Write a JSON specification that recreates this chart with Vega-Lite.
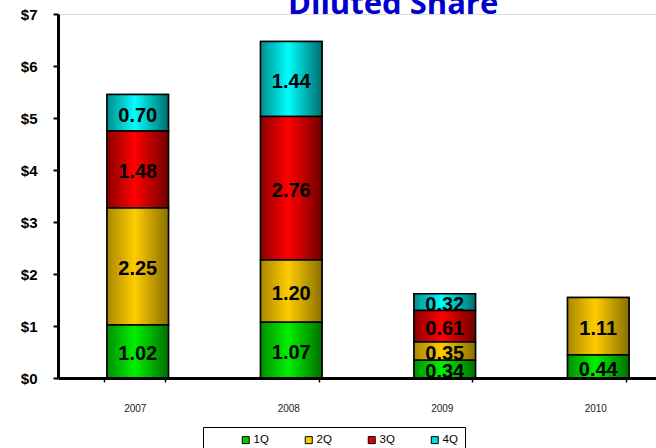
{
  "$schema": "https://vega.github.io/schema/vega-lite/v6.json",
  "autosize": "none",
  "width": 598,
  "height": 364,
  "padding": {"left": 58, "top": 14, "right": 0, "bottom": 70},
  "background": "white",
  "title": {
    "text": "Diluted Share",
    "anchor": "start",
    "frame": "group",
    "dx": 230,
    "offset": 0,
    "dy": 14,
    "font": "Open Sans",
    "fontSize": 31,
    "fontWeight": "bold",
    "color": "#0000CC"
  },
  "data": {
    "values": [
      {"year": "2007", "quarter": "1Q", "value": 1.02, "label": "1.02"},
      {"year": "2007", "quarter": "2Q", "value": 2.25, "label": "2.25"},
      {"year": "2007", "quarter": "3Q", "value": 1.48, "label": "1.48"},
      {"year": "2007", "quarter": "4Q", "value": 0.70, "label": "0.70"},
      {"year": "2008", "quarter": "1Q", "value": 1.07, "label": "1.07"},
      {"year": "2008", "quarter": "2Q", "value": 1.20, "label": "1.20"},
      {"year": "2008", "quarter": "3Q", "value": 2.76, "label": "2.76"},
      {"year": "2008", "quarter": "4Q", "value": 1.44, "label": "1.44"},
      {"year": "2009", "quarter": "1Q", "value": 0.34, "label": "0.34"},
      {"year": "2009", "quarter": "2Q", "value": 0.35, "label": "0.35"},
      {"year": "2009", "quarter": "3Q", "value": 0.61, "label": "0.61"},
      {"year": "2009", "quarter": "4Q", "value": 0.32, "label": "0.32"},
      {"year": "2010", "quarter": "1Q", "value": 0.44, "label": "0.44"},
      {"year": "2010", "quarter": "2Q", "value": 1.11, "label": "1.11"}
    ]
  },
  "transform": [
    {"stack": "value", "groupby": ["year"], "sort": [{"field": "quarter", "order": "ascending"}], "as": ["y0", "y1"]},
    {"calculate": "(datum.y0 + datum.y1) / 2", "as": "ymid"}
  ],
  "encoding": {
    "x": {
      "field": "year",
      "type": "nominal",
      "scale": {"range": [0, 614], "paddingInner": 0.6, "paddingOuter": 0.3},
      "axis": {
        "title": null,
        "labelAngle": 0,
        "labelFont": "Liberation Sans",
        "labelFontSize": 10,
        "labelColor": "#222222",
        "labelPadding": 21,
        "domainColor": "black",
        "domainWidth": 3,
        "tickColor": "black",
        "tickWidth": 1.5,
        "tickSize": 4,
        "tickBand": "extent",
        "zindex": 1
      }
    }
  },
  "layer": [
    {
      "mark": {"type": "bar", "stroke": "black", "strokeWidth": 1.5, "xOffset": 3},
      "encoding": {
        "y": {
          "field": "y0",
          "type": "quantitative",
          "scale": {"domain": [0, 7], "nice": false},
          "axis": {
            "title": null,
            "values": [0, 1, 2, 3, 4, 5, 6, 7],
            "labelExpr": "'$' + datum.value",
            "labelFont": "Liberation Sans",
            "labelFontSize": 15,
            "labelFontWeight": "bold",
            "labelColor": "black",
            "labelPadding": 16,
            "grid": false,
            "domainColor": "black",
            "domainWidth": 3,
            "tickColor": "black",
            "tickWidth": 2,
            "tickSize": 5,
            "zindex": 1
          }
        },
        "y2": {"field": "y1"},
        "color": {
          "field": "quarter",
          "type": "nominal",
          "scale": {"domain": ["1Q", "2Q", "3Q", "4Q"], "range": ["#00CC00", "#FFCC00", "#DD0000", "#00DDDD"]},
          "legend": {
            "title": null,
            "orient": "none",
            "legendX": 145,
            "legendY": 413,
            "direction": "horizontal",
            "columns": 4,
            "columnPadding": 4,
            "padding": 7,
            "symbolOffset": 30,
            "strokeColor": "black",
            "fillColor": "white",
            "symbolType": "square",
            "symbolSize": 49,
            "symbolStrokeColor": "black",
            "symbolStrokeWidth": 1,
            "labelFont": "Liberation Sans",
            "labelFontSize": 11.5,
            "labelColor": "black",
            "labelOffset": 2
          }
        }
      }
    },
    {
      "transform": [{"filter": "datum.quarter == '4Q'"}],
      "mark": {"type": "bar", "stroke": "black", "strokeWidth": 1.5, "xOffset": 3,
        "fill": {"gradient": "linear", "x1": 0, "x2": 1, "y1": 0, "y2": 0, "stops": [{"offset": 0, "color": "#008C8C"}, {"offset": 0.45, "color": "#00FFFF"}, {"offset": 1, "color": "#006C6C"}]}},
      "encoding": {"y": {"field": "y0", "type": "quantitative"}, "y2": {"field": "y1"}}
    },
    {
      "transform": [{"filter": "datum.quarter == '4Q'"}],
      "mark": {"type": "text", "font": "Liberation Sans", "fontSize": 20, "fontWeight": "bold", "color": "black", "dy": 3, "xOffset": 3},
      "encoding": {"y": {"field": "ymid", "type": "quantitative"}, "text": {"field": "label"}}
    },
    {
      "transform": [{"filter": "datum.quarter == '3Q'"}],
      "mark": {"type": "bar", "stroke": "black", "strokeWidth": 1.5, "xOffset": 3,
        "fill": {"gradient": "linear", "x1": 0, "x2": 1, "y1": 0, "y2": 0, "stops": [{"offset": 0, "color": "#8C0000"}, {"offset": 0.45, "color": "#FF0000"}, {"offset": 1, "color": "#700000"}]}},
      "encoding": {"y": {"field": "y0", "type": "quantitative"}, "y2": {"field": "y1"}}
    },
    {
      "transform": [{"filter": "datum.quarter == '3Q'"}],
      "mark": {"type": "text", "font": "Liberation Sans", "fontSize": 20, "fontWeight": "bold", "color": "black", "dy": 3, "xOffset": 3},
      "encoding": {"y": {"field": "ymid", "type": "quantitative"}, "text": {"field": "label"}}
    },
    {
      "transform": [{"filter": "datum.quarter == '2Q'"}],
      "mark": {"type": "bar", "stroke": "black", "strokeWidth": 1.5, "xOffset": 3,
        "fill": {"gradient": "linear", "x1": 0, "x2": 1, "y1": 0, "y2": 0, "stops": [{"offset": 0, "color": "#A88800"}, {"offset": 0.45, "color": "#FFCC00"}, {"offset": 1, "color": "#8A7000"}]}},
      "encoding": {"y": {"field": "y0", "type": "quantitative"}, "y2": {"field": "y1"}}
    },
    {
      "transform": [{"filter": "datum.quarter == '2Q'"}],
      "mark": {"type": "text", "font": "Liberation Sans", "fontSize": 20, "fontWeight": "bold", "color": "black", "dy": 3, "xOffset": 3},
      "encoding": {"y": {"field": "ymid", "type": "quantitative"}, "text": {"field": "label"}}
    },
    {
      "transform": [{"filter": "datum.quarter == '1Q'"}],
      "mark": {"type": "bar", "stroke": "black", "strokeWidth": 1.5, "xOffset": 3,
        "fill": {"gradient": "linear", "x1": 0, "x2": 1, "y1": 0, "y2": 0, "stops": [{"offset": 0, "color": "#009000"}, {"offset": 0.45, "color": "#00F000"}, {"offset": 1, "color": "#007000"}]}},
      "encoding": {"y": {"field": "y0", "type": "quantitative"}, "y2": {"field": "y1"}}
    },
    {
      "transform": [{"filter": "datum.quarter == '1Q'"}],
      "mark": {"type": "text", "font": "Liberation Sans", "fontSize": 20, "fontWeight": "bold", "color": "black", "dy": 3, "xOffset": 3},
      "encoding": {"y": {"field": "ymid", "type": "quantitative"}, "text": {"field": "label"}}
    }
  ]
}
